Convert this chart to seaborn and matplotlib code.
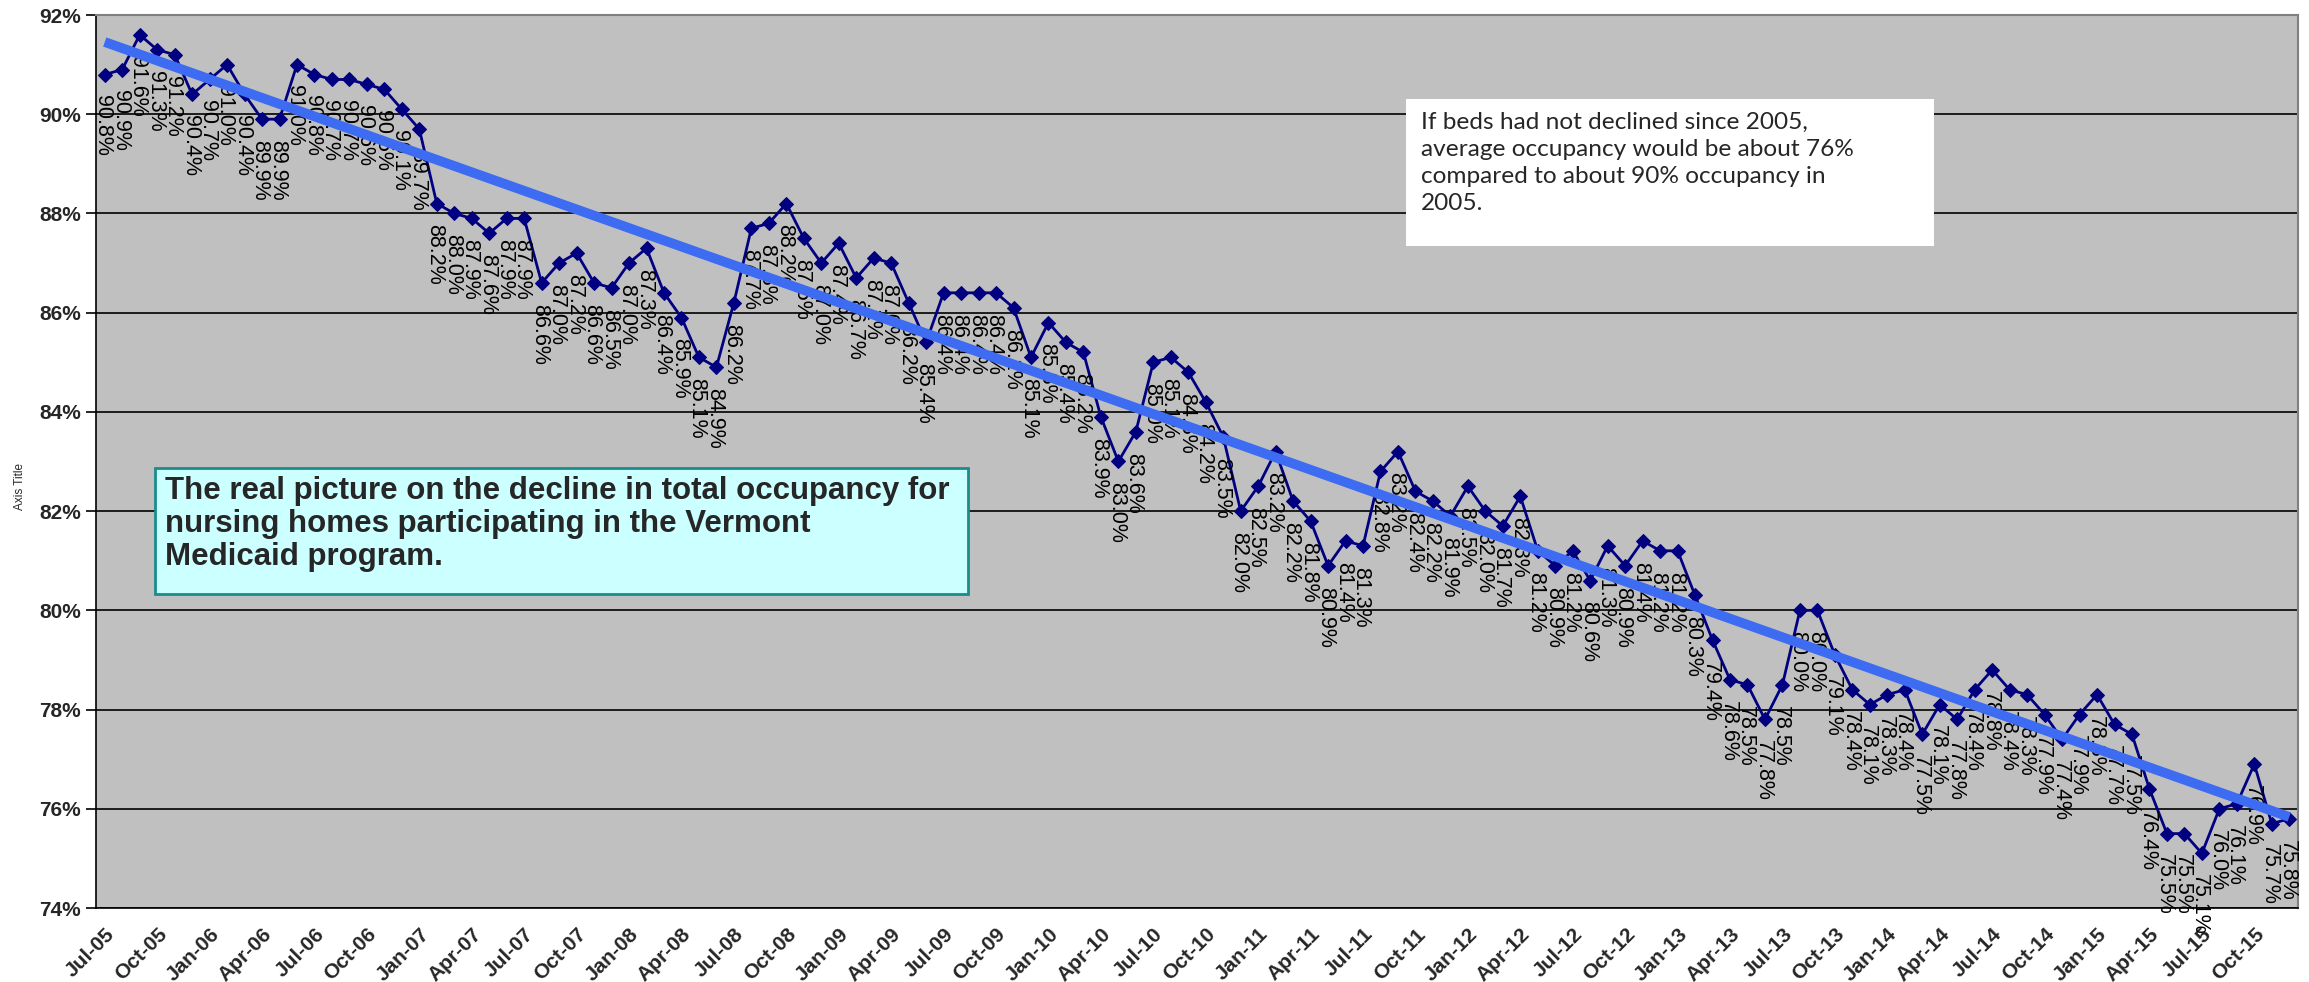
import numpy as np
import pandas as pd
import matplotlib
matplotlib.use("Agg")
import matplotlib.pyplot as plt
import seaborn as sns
from matplotlib.patches import Rectangle


# monthly total occupancy, Jul-05 .. Dec-15
months = pd.date_range("2005-07-01", "2015-12-01", freq="MS")
month_labels = [d.strftime("%b-%y") for d in months]
occupancy = [
    90.8, 90.9, 91.6, 91.3, 91.2, 90.4, 90.7, 91.0, 90.4, 89.9, 89.9, 91.0,
    90.8, 90.7, 90.7, 90.6, 90.5, 90.1, 89.7, 88.2, 88.0, 87.9, 87.6, 87.9,
    87.9, 86.6, 87.0, 87.2, 86.6, 86.5, 87.0, 87.3, 86.4, 85.9, 85.1, 84.9,
    86.2, 87.7, 87.8, 88.2, 87.5, 87.0, 87.4, 86.7, 87.1, 87.0, 86.2, 85.4,
    86.4, 86.4, 86.4, 86.4, 86.1, 85.1, 85.8, 85.4, 85.2, 83.9, 83.0, 83.6,
    85.0, 85.1, 84.8, 84.2, 83.5, 82.0, 82.5, 83.2, 82.2, 81.8, 80.9, 81.4,
    81.3, 82.8, 83.2, 82.4, 82.2, 81.9, 82.5, 82.0, 81.7, 82.3, 81.2, 80.9,
    81.2, 80.6, 81.3, 80.9, 81.4, 81.2, 81.2, 80.3, 79.4, 78.6, 78.5, 77.8,
    78.5, 80.0, 80.0, 79.1, 78.4, 78.1, 78.3, 78.4, 77.5, 78.1, 77.8, 78.4,
    78.8, 78.4, 78.3, 77.9, 77.4, 77.9, 78.3, 77.7, 77.5, 76.4, 75.5, 75.5,
    75.1, 76.0, 76.1, 76.9, 75.7, 75.8,
]
y_ticks = [74, 76, 78, 80, 82, 84, 86, 88, 90, 92]

note_text = ("If beds had not declined since 2005,\n"
             "average occupancy would be about 76%\n"
             "compared to about 90% occupancy in\n"
             "2005.")
title_text = ("The real picture on the decline in total occupancy for\n"
              "nursing homes participating in the Vermont\n"
              "Medicaid program.")

df = pd.DataFrame({"idx": np.arange(len(occupancy)), "occ": occupancy})

sns.set_style("white")
plt.rcParams["font.family"] = ["Liberation Sans", "DejaVu Sans"]

W, H = 2309, 982
fig = plt.figure(figsize=(W / 100, H / 100), dpi=100)
ax = fig.add_axes([96 / W, 1 - 908 / H, (2298 - 96) / W, (908 - 15) / H])
ax.set_facecolor("#C0C0C0")

# data line with diamonds
sns.lineplot(data=df, x="idx", y="occ", ax=ax, color="#000080", lw=2,
             marker="D", markersize=7, markeredgecolor="#000080", zorder=3)

# value labels, rotated, below each point
for i, v in enumerate(occupancy):
    ax.annotate(f"{v:.1f}%", (i, v), xytext=(-1.5, -15), textcoords="offset points",
                rotation=-90, ha="center", va="top", fontsize=15.5, color="black",
                zorder=4)

# linear trend line
sns.regplot(data=df, x="idx", y="occ", ax=ax, scatter=False, ci=None,
            line_kws=dict(color="#3D6CF2", lw=7, solid_capstyle="butt", zorder=5))

ax.set_ylim(74, 92)
ax.set_yticks(y_ticks)
ax.set_yticklabels([f"{t}%" for t in y_ticks], fontweight="bold", fontsize=15)
ax.yaxis.grid(True, color="black", lw=1.2)
ax.set_axisbelow(True)

ax.set_xlim(-0.5, len(occupancy) - 0.5)
major = [i for i in range(len(occupancy)) if i % 3 == 0]
ax.set_xticks(major)
ax.set_xticklabels([month_labels[i] for i in major], rotation=45, ha="right",
                   va="top", rotation_mode="anchor", fontweight="bold", fontsize=15)
ax.set_xticks([i - 0.5 for i in range(0, len(occupancy) + 1, 3)], minor=True)
ax.tick_params(axis="x", which="major", length=0, pad=12)
ax.tick_params(axis="x", which="minor", length=8, width=1.2, color="#555555")
ax.tick_params(axis="y", length=7, width=1.2, pad=4, color="black", left=True)
ax.set_xlabel("")
ax.set_ylabel("")

for s in ["left", "bottom"]:
    ax.spines[s].set_color("black")
    ax.spines[s].set_linewidth(1.2)
for s in ["top", "right"]:
    ax.spines[s].set_color("#808080")
    ax.spines[s].set_linewidth(1.5)

fig.text(0.006, 0.505, "Axis Title", rotation=90, fontsize=8.5, va="center", ha="left")

# note box (white)
fig.add_artist(Rectangle((1406 / W, 1 - 246 / H), 528 / W, 147 / H,
                         transform=fig.transFigure, facecolor="white",
                         edgecolor="none", zorder=6))
fig.text(1421 / W, 1 - 112 / H, note_text, fontsize=17.6, family=["Lato", "DejaVu Sans"],
         va="top", ha="left", linespacing=1.35, zorder=7)

# title box (cyan)
fig.add_artist(Rectangle((155 / W, 1 - 594 / H), 813 / W, 126 / H,
                         transform=fig.transFigure, facecolor="#CCFFFF",
                         edgecolor="#1A8C8C", lw=2, zorder=6))
fig.text(165 / W, 1 - 476 / H, title_text, fontsize=22.5, fontweight="bold",
         va="top", ha="left", linespacing=1.13, zorder=7)

fig.savefig("out.png", dpi=100)
